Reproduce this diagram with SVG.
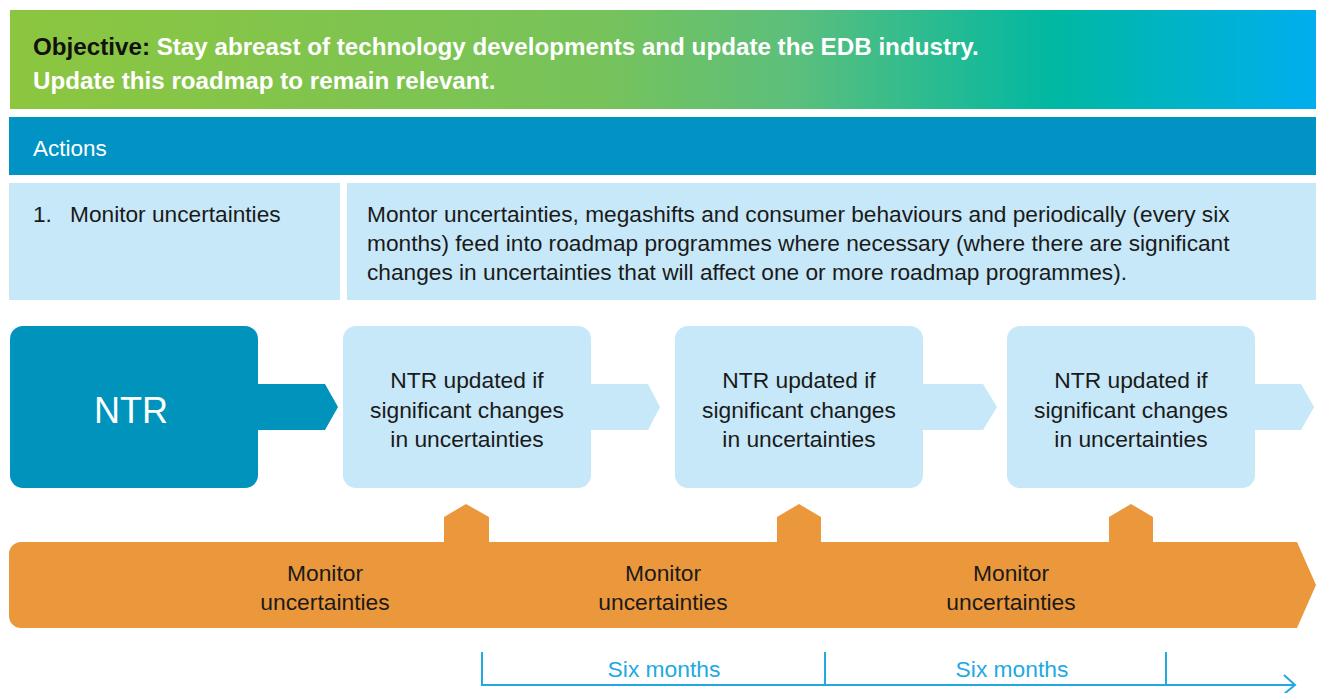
<svg xmlns="http://www.w3.org/2000/svg" width="1322" height="693" viewBox="0 0 1322 693">
<defs>
<linearGradient id="hdr" x1="0" y1="0" x2="1" y2="0">
<stop offset="0" stop-color="#8cc63f"/>
<stop offset="0.45" stop-color="#77c35a"/>
<stop offset="0.6" stop-color="#5cbf7c"/>
<stop offset="0.8" stop-color="#00b8a2"/>
<stop offset="1" stop-color="#00aeef"/>
</linearGradient>
<style>
.t{font-family:"Liberation Sans",Arial,sans-serif;}
.hd{font-size:24.2px;font-weight:bold;fill:#ffffff;}
.cell{font-size:22.7px;fill:#1a1a1a;}
.box{font-size:22.8px;fill:#1a1a1a;text-anchor:middle;}
.lb{fill:#c7e8f8;}
.or{fill:#eb983c;}
.tl{stroke:#22a9e2;stroke-width:2;fill:none;}
.six{font-size:22.8px;fill:#22a9e2;text-anchor:middle;}
</style>
</defs>
<rect width="1322" height="693" fill="#ffffff"/>

<g id="header">
<rect x="10" y="10" width="1306" height="99" fill="url(#hdr)"/>
<text class="t hd" x="33" y="55"><tspan fill="#111111">Objective:</tspan> Stay abreast of technology developments and update the EDB industry.</text>
<text class="t hd" x="33" y="89">Update this roadmap to remain relevant.</text>
</g>

<g id="actions">
<rect x="9" y="117" width="1307" height="58" fill="#0093c4"/>
<text class="t" x="33" y="156" font-size="22.5" fill="#ffffff">Actions</text>
</g>

<g id="row1">
<rect x="9" y="183" width="331" height="117" class="lb"/>
<rect x="347" y="183" width="969" height="117" class="lb"/>
<text class="t cell" x="33" y="222">1.</text>
<text class="t cell" x="70" y="222">Monitor uncertainties</text>
<text class="t cell" x="367" y="222">Montor uncertainties, megashifts and consumer behaviours and periodically (every six</text>
<text class="t cell" x="367" y="251">months) feed into roadmap programmes where necessary (where there are significant</text>
<text class="t cell" x="367" y="280">changes in uncertainties that will affect one or more roadmap programmes).</text>
</g>

<g id="connectors">
<polygon points="250,384 325,384 338,407 325,430 250,430" fill="#0093bb"/>
<polygon points="585,384 648,384 660,407 648,430 585,430" class="lb"/>
<polygon points="917,384 983,384 997,407 983,430 917,430" class="lb"/>
<polygon points="1249,384 1301,384 1314,407 1301,430 1249,430" class="lb"/>
</g>

<g id="ntr">
<rect x="10" y="326" width="248" height="162" rx="13" fill="#0093bb"/>
<text class="t" x="131" y="423" font-size="36" fill="#ffffff" text-anchor="middle">NTR</text>
</g>

<g id="update1">
<rect x="343" y="326" width="248" height="162" rx="13" class="lb"/>
<text class="t box" x="467" y="388">NTR updated if</text>
<text class="t box" x="467" y="418">significant changes</text>
<text class="t box" x="467" y="447">in uncertainties</text>
</g>
<g id="update2">
<rect x="675" y="326" width="248" height="162" rx="13" class="lb"/>
<text class="t box" x="799" y="388">NTR updated if</text>
<text class="t box" x="799" y="418">significant changes</text>
<text class="t box" x="799" y="447">in uncertainties</text>
</g>
<g id="update3">
<rect x="1007" y="326" width="248" height="162" rx="13" class="lb"/>
<text class="t box" x="1131" y="388">NTR updated if</text>
<text class="t box" x="1131" y="418">significant changes</text>
<text class="t box" x="1131" y="447">in uncertainties</text>
</g>

<g id="monitor-bar">
<path class="or" d="M21,542 H444 V517 L466,504 L489,517 V542 H777 V517 L799,504 L821,517 V542 H1109 V517 L1131,504 L1153,517 V542 H1297 L1316,585 L1297,628 H21 A12,12 0 0 1 9,616 V554 A12,12 0 0 1 21,542 Z"/>
<text class="t box" x="325" y="581">Monitor</text>
<text class="t box" x="325" y="610">uncertainties</text>
<text class="t box" x="663" y="581">Monitor</text>
<text class="t box" x="663" y="610">uncertainties</text>
<text class="t box" x="1011" y="581">Monitor</text>
<text class="t box" x="1011" y="610">uncertainties</text>
</g>

<g id="timeline">
<path class="tl" d="M482,652 V685 H1294"/>
<path class="tl" d="M825,652 V685"/>
<path class="tl" d="M1166,652 V685"/>
<path class="tl" d="M1284,675 L1295,685 L1284,694"/>
<text class="t six" x="664" y="677">Six months</text>
<text class="t six" x="1012" y="677">Six months</text>
</g>
</svg>
